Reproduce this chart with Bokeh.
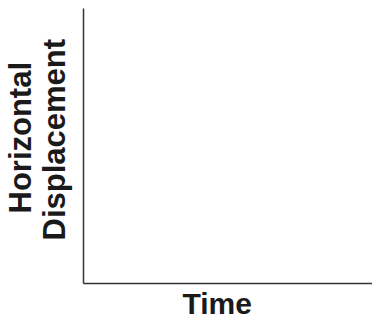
from bokeh.plotting import figure
from bokeh.models import Range1d, FixedTicker, Title
from bokeh.embed import file_html
from bokeh.resources import INLINE

x_label = "Time"
y_label_lines = ["Horizontal", "Displacement"]
x_limits = [0, 1]
y_limits = [0, 1]

p = figure(frame_width=289, frame_height=275, output_backend="svg", toolbar_location=None,
           x_range=Range1d(*x_limits), y_range=Range1d(*y_limits))
p.min_border_left = 83
p.min_border_right = 0
p.min_border_top = 8
p.min_border_bottom = 0
p.outline_line_color = None
p.grid.visible = False
p.background_fill_color = "white"

for ax in (p.xaxis[0], p.yaxis[0]):
    ax.ticker = FixedTicker(ticks=[])
    ax.major_tick_line_color = None
    ax.minor_tick_line_color = None
    ax.major_tick_out = 0
    ax.major_tick_in = 0
    ax.major_label_standoff = 0
    ax.axis_line_color = "#333333"
    ax.axis_line_width = 1.5

font_kw = dict(text_font="Liberation Sans", text_font_style="bold",
               text_color="#1a1a1a", align="left")

# x-axis title below the frame
p.add_layout(Title(text=x_label, offset=99, standoff=2, text_font_size="30px", **font_kw), "below")

# y-axis title: two rotated lines, inner line first
p.add_layout(Title(text=y_label_lines[1], offset=43, standoff=23, text_font_size="31px", **font_kw), "left")
p.add_layout(Title(text=y_label_lines[0], offset=70, standoff=-28, text_font_size="31px", **font_kw), "left")

open("out.html", "w").write(file_html(p, INLINE))
